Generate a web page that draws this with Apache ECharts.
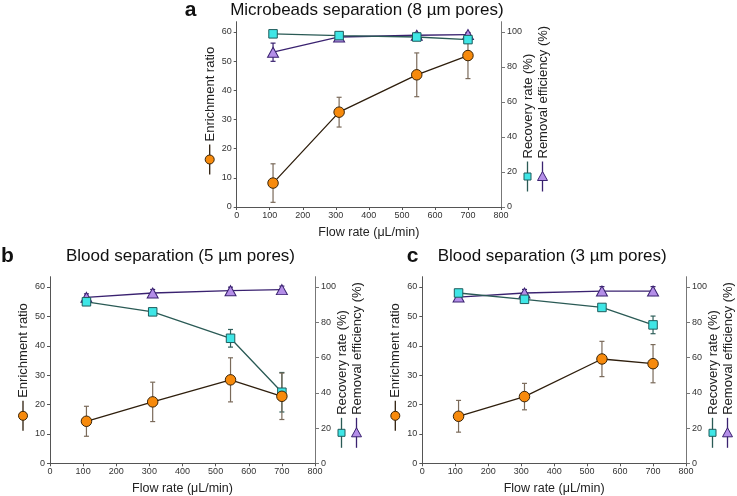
<!DOCTYPE html>
<html><head><meta charset="utf-8">
<script src="https://cdn.jsdelivr.net/npm/echarts@6/dist/echarts.min.js"></script>
<style>html,body{margin:0;padding:0;background:#fff}#c{width:737px;height:496px}</style>
</head><body><div id="c"></div><script>
// ---- data ----
const flowRate = [110, 310, 545, 700];
const xTicks = [0, 100, 200, 300, 400, 500, 600, 700, 800];
const leftTicks = [0, 10, 20, 30, 40, 50, 60];
const rightTicks = [0, 20, 40, 60, 80, 100];
const panelLetters = ['a', 'b', 'c'];
const panelTitles = ['Microbeads separation (8 µm pores)', 'Blood separation (5 µm pores)', 'Blood separation (3 µm pores)'];
const xName = 'Flow rate (μL/min)';
const leftName = 'Enrichment ratio';
const recName = 'Recovery rate (%)';
const remName = 'Removal efficiency (%)';

// panel a
const enrichA = [8.2, 32.5, 45.3, 51.9];
const enrichErrA = [6.6, 5.1, 7.5, 7.9];
const recoveryA = [98.9, 97.9, 97.1, 95.6];
const recoveryErrA = [1.0, 1.2, 1.2, 1.2];
const removalA = [88.4, 97.1, 98.1, 98.5];
const removalErrA = [5.2, 1.5, 1.5, 1.0];
// panel b
const enrichB = [14.3, 20.9, 28.4, 22.8];
const enrichErrB = [5.1, 6.7, 7.5, 7.9];
const recoveryB = [91.6, 85.9, 70.9, 40.3];
const recoveryErrB = [1.5, 1.5, 5.0, 11.2];
const removalB = [94.1, 96.6, 97.9, 98.5];
const removalErrB = [2.0, 2.0, 2.0, 2.0];
// panel c
const enrichC = [16.0, 22.7, 35.5, 33.9];
const enrichErrC = [5.4, 4.5, 6.0, 6.5];
const recoveryC = [96.6, 93.0, 88.4, 78.5];
const recoveryErrC = [1.5, 1.5, 1.5, 5.0];
const removalC = [94.3, 96.6, 97.7, 97.7];
const removalErrC = [2.0, 2.0, 2.5, 2.5];

const panels = [
  {enrich: enrichA, enrichErr: enrichErrA, rec: recoveryA, recErr: recoveryErrA, rem: removalA, remErr: removalErrA},
  {enrich: enrichB, enrichErr: enrichErrB, rec: recoveryB, recErr: recoveryErrB, rem: removalB, remErr: removalErrB},
  {enrich: enrichC, enrichErr: enrichErrC, rec: recoveryC, recErr: recoveryErrC, rem: removalC, remErr: removalErrC}
];

// ---- layout / style ----
const W = 737, H = 496;
const grids = [
  {left: 236.7, right: 236, top: 21.7, bottom: 289},
  {left: 50, right: 422, top: 276.7, bottom: 32.7},
  {left: 422.3, right: 51, top: 276.7, bottom: 32.7}
];
const FONT = '"Liberation Sans", Arial, sans-serif';
const orange = {fill: '#F78A0C', border: '#3a2408', line: '#2e1e0c', err: '#7a6a5a'};
const cyan = {fill: '#3FE6E6', border: '#1f5c5c', line: '#2a5a55', err: '#2f5f5a'};
const purple = {fill: '#B48EE8', border: '#3a2270', line: '#3a2270', err: '#3a2270'};
const LEFT_MAX = 63.5, RIGHT_MAX = LEFT_MAX * 100 / 60;

const chart = echarts.init(document.getElementById('c'), null, {renderer: 'canvas'});

const xAxes = [], yAxes = [], series = [], graphics = [];

function errSeries(xi, yi, vals, errs, color) {
  return {
    type: 'custom', xAxisIndex: xi, yAxisIndex: yi, silent: true, z: 2,
    data: flowRate.map((x, i) => [x, vals[i], errs[i]]),
    encode: {x: 0, y: 1},
    renderItem: function (params, api) {
      const x = api.value(0), y = api.value(1), e = api.value(2);
      const hi = api.coord([x, y + e]), lo = api.coord([x, y - e]);
      const w = 2.5, st = {stroke: color, lineWidth: 1.2};
      return {type: 'group', children: [
        {type: 'line', shape: {x1: hi[0], y1: hi[1], x2: lo[0], y2: lo[1]}, style: st},
        {type: 'line', shape: {x1: hi[0] - w, y1: hi[1], x2: hi[0] + w, y2: hi[1]}, style: st},
        {type: 'line', shape: {x1: lo[0] - w, y1: lo[1], x2: lo[0] + w, y2: lo[1]}, style: st}
      ]};
    }
  };
}
function lineSeries(xi, yi, vals, col, symbol, size, z) {
  return {
    type: 'line', xAxisIndex: xi, yAxisIndex: yi, z: z,
    data: flowRate.map((x, i) => [x, vals[i]]),
    symbol: symbol, symbolSize: size, showSymbol: true,
    itemStyle: {color: col.fill, borderColor: col.border, borderWidth: 1},
    lineStyle: {color: col.line, width: 1.3},
    emphasis: {disabled: true}, animation: false
  };
}

grids.forEach((g, gi) => {
  const p = panels[gi];
  const axisRightPx = W - g.right;
  const axisBottomPx = H - g.bottom;
  xAxes.push({
    type: 'value', gridIndex: gi, min: 0, max: 800, interval: 100,
    name: xName, nameLocation: 'middle', nameGap: 19,
    nameTextStyle: {fontFamily: FONT, fontSize: 12.5, color: '#222'},
    axisLine: {show: true, lineStyle: {color: '#555', width: 1}},
    axisTick: {show: true, length: 3, lineStyle: {color: '#555'}, customValues: xTicks},
    axisLabel: {fontFamily: FONT, fontSize: 9, color: '#333', margin: 4, customValues: xTicks},
    splitLine: {show: false}
  });
  yAxes.push({
    type: 'value', gridIndex: gi, position: 'left', min: 0, max: LEFT_MAX,
    axisLine: {show: true, lineStyle: {color: '#555', width: 1}},
    axisTick: {show: true, length: 3, lineStyle: {color: '#555'}, customValues: leftTicks},
    axisLabel: {fontFamily: FONT, fontSize: 9, color: '#333', margin: 5, customValues: leftTicks},
    splitLine: {show: false}
  });
  yAxes.push({
    type: 'value', gridIndex: gi, position: 'right', min: 0, max: RIGHT_MAX,
    axisLine: {show: true, lineStyle: {color: '#777', width: 1}},
    axisTick: {show: true, length: 4, lineStyle: {color: '#777'}, customValues: rightTicks},
    axisLabel: {fontFamily: FONT, fontSize: 9, color: '#333', margin: 6, customValues: rightTicks},
    splitLine: {show: false}
  });
  const yl = gi * 2, yr = gi * 2 + 1;
  series.push(errSeries(gi, yr, p.rem, p.remErr, purple.err));
  series.push(errSeries(gi, yr, p.rec, p.recErr, cyan.err));
  series.push(errSeries(gi, yl, p.enrich, p.enrichErr, orange.err));
  series.push(lineSeries(gi, yr, p.rem, purple, 'triangle', [11, 10], 3));
  series.push(lineSeries(gi, yr, p.rec, cyan, 'rect', 8.5, 4));
  series.push(lineSeries(gi, yl, p.enrich, orange, 'circle', 10.5, 5));

  // title and panel letter
  const cx = (g.left + axisRightPx) / 2;
  const titleY = gi === 0 ? 10.5 : 256.5;
  graphics.push({type: 'text', x: cx - 2, y: titleY, style: {text: panelTitles[gi], font: '17px ' + FONT, fill: '#111', align: 'center', verticalAlign: 'middle'}});
  const letterX = [190.5, 7.5, 412.5][gi];
  graphics.push({type: 'text', x: letterX, y: titleY - 0.5, style: {text: panelLetters[gi], font: 'bold 21px ' + FONT, fill: '#111', align: 'center', verticalAlign: 'middle'}});

  // left axis name with legend marker
  const lx = g.left - 27, ly = axisBottomPx - 47.5;
  graphics.push({type: 'line', shape: {x1: lx, y1: ly - 15, x2: lx, y2: ly + 15}, style: {stroke: orange.line, lineWidth: 1.3}});
  graphics.push({type: 'circle', x: lx, y: ly, shape: {cx: 0, cy: 0, r: 4.5}, style: {fill: orange.fill, stroke: orange.border, lineWidth: 1}});
  graphics.push({type: 'text', x: lx + 0.5, y: ly - 18, rotation: Math.PI / 2, style: {text: leftName, font: '13px ' + FONT, fill: '#222', align: 'left', verticalAlign: 'middle'}});

  // right axis names with legend markers
  const rx1 = axisRightPx + 26.5, rx2 = axisRightPx + 41.5, ry = axisBottomPx - 30.5;
  graphics.push({type: 'line', shape: {x1: rx1, y1: ry - 15, x2: rx1, y2: ry + 15}, style: {stroke: cyan.line, lineWidth: 1.3}});
  graphics.push({type: 'rect', x: rx1, y: ry, shape: {x: -3.5, y: -3.5, width: 7, height: 7}, style: {fill: cyan.fill, stroke: cyan.border, lineWidth: 1}});
  graphics.push({type: 'text', x: rx1 + 0.5, y: ry - 18, rotation: Math.PI / 2, style: {text: recName, font: '13px ' + FONT, fill: '#222', align: 'left', verticalAlign: 'middle'}});
  graphics.push({type: 'line', shape: {x1: rx2, y1: ry - 15, x2: rx2, y2: ry + 15}, style: {stroke: purple.line, lineWidth: 1.3}});
  graphics.push({type: 'polygon', x: rx2, y: ry, shape: {points: [[0, -5], [5, 4], [-5, 4]]}, style: {fill: purple.fill, stroke: purple.border, lineWidth: 1}});
  graphics.push({type: 'text', x: rx2 + 0.5, y: ry - 18, rotation: Math.PI / 2, style: {text: remName, font: '13px ' + FONT, fill: '#222', align: 'left', verticalAlign: 'middle'}});
});

chart.setOption({
  animation: false,
  backgroundColor: '#ffffff',
  textStyle: {fontFamily: FONT},
  grid: grids.map(g => Object.assign({containLabel: false, outerBoundsMode: 'none'}, g)),
  xAxis: xAxes,
  yAxis: yAxes,
  series: series,
  graphic: graphics
});
</script></body></html>
